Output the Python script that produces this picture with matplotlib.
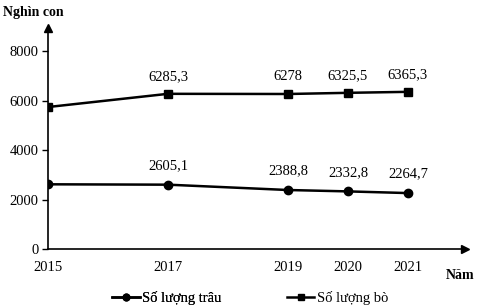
import matplotlib.pyplot as plt

# số liệu
years = [2015, 2017, 2019, 2020, 2021]
trau = [2620, 2605.1, 2388.8, 2332.8, 2264.7]
bo = [5750, 6285.3, 6278, 6325.5, 6365.3]
trau_labels = ['', '2605,1', '2388,8', '2332,8', '2264,7']
bo_labels = ['', '6285,3', '6278', '6325,5', '6365,3']
yticks = [0, 2000, 4000, 6000, 8000]

plt.rcParams['font.family'] = ['Liberation Serif', 'DejaVu Serif']

fig = plt.figure(figsize=(4.82, 3.08), dpi=100)
ax = fig.add_axes([0.0996, 0.1916, 0.8651, 0.7174])

h1, = ax.plot(years, trau, color='black', lw=1.8, marker='o', ms=6)
h2, = ax.plot(years, bo, color='black', lw=1.8, marker='s', ms=5.5)

for x, y, t in zip(years, trau, trau_labels):
    if t:
        ax.annotate(t, (x, y), xytext=(0, 9), textcoords='offset points',
                    ha='center', va='bottom', fontsize=10.5)
for x, y, t in zip(years, bo, bo_labels):
    if t:
        ax.annotate(t, (x, y), xytext=(0, 8), textcoords='offset points',
                    ha='center', va='bottom', fontsize=10.5)

ax.set_xlim(2015, 2021.95)
ax.set_ylim(0, 8950)
ax.set_xticks(years)
ax.set_xticklabels([str(y) for y in years], fontsize=10.5)
ax.set_yticks(yticks)
ax.set_yticklabels([str(v) for v in yticks], fontsize=10.5)
ax.tick_params(axis='x', length=0, pad=9)
ax.tick_params(axis='y', length=4, width=1, pad=3)

for s in ['top', 'right']:
    ax.spines[s].set_visible(False)
for s in ['left', 'bottom']:
    ax.spines[s].set_linewidth(1.2)

# mũi tên trục
ax.plot(1, 0, '>k', ms=6, transform=ax.transAxes, clip_on=False)
ax.plot(0, 1, '^k', ms=6, transform=ax.transAxes, clip_on=False)

fig.text(0.006, 0.958, 'Nghìn con', fontsize=10, fontweight='bold', va='center')
fig.text(0.925, 0.104, 'Năm', fontsize=10, fontweight='bold', va='center')

# chú giải
leg_kw = dict(loc='center left', frameon=False, fontsize=10.5, borderpad=0,
              borderaxespad=0, handlelength=1.9, handletextpad=0.15,
              markerscale=0.8)
leg1 = fig.legend([h1], ['Số lượng trâu'], bbox_to_anchor=(0.232, 0.033), **leg_kw)
fig.add_artist(leg1)
fig.legend([h2], ['Số lượng bò'], bbox_to_anchor=(0.595, 0.033), **leg_kw)

fig.savefig('out.png', dpi=100)
